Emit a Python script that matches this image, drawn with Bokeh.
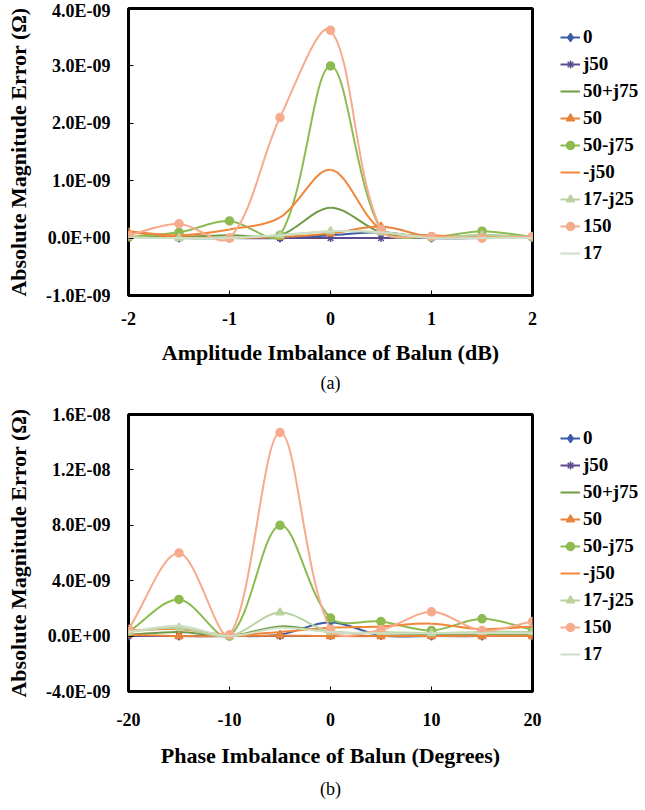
import numpy as np
from bokeh.plotting import figure
from bokeh.models import (Range1d, FixedTicker, CustomJSTickFormatter,
                          Legend, LegendItem, Title, ColumnDataSource)
from bokeh.layouts import column
from bokeh.embed import file_html
from bokeh.resources import INLINE

# ---------------- data (values in units of 1E-09 ohm) ----------------
SERIES = ["0", "j50", "50+j75", "50", "50-j75", "-j50", "17-j25", "150", "17"]
UNIT = 1e-9

# (a) amplitude imbalance
amp_x = [-2, -1.5, -1, -0.5, 0, 0.5, 1, 1.5, 2]
amp_0      = [0.02, 0.0, 0.0, 0.0, 0.05, 0.10, 0.0, 0.0, 0.0]
amp_j50    = [0.0, 0.0, 0.0, 0.0, 0.0, 0.0, 0.0, 0.0, 0.0]
amp_50j75  = [0.02, 0.02, 0.05, 0.05, 0.53, 0.10, 0.02, 0.05, 0.02]
amp_50     = [0.10, 0.02, 0.0, 0.02, 0.08, 0.20, 0.02, 0.02, 0.02]
amp_50mj75 = [0.02, 0.10, 0.30, 0.05, 3.00, 0.15, 0.02, 0.12, 0.02]
amp_mj50   = [0.12, 0.05, 0.15, 0.36, 1.19, 0.15, 0.05, 0.02, 0.02]
amp_17mj25 = [0.02, 0.0, 0.0, 0.05, 0.12, 0.10, 0.02, 0.05, 0.02]
amp_150    = [0.05, 0.25, 0.0, 2.10, 3.62, 0.15, 0.03, 0.0, 0.03]
amp_17     = [0.0, 0.0, 0.0, 0.05, 0.12, 0.10, 0.0, 0.0, 0.0]

amp_x_ticks = [-2, -1, 0, 1, 2]
amp_x_labels = ["-2", "-1", "0", "1", "2"]
amp_y_ticks = [-1e-9, 0.0, 1e-9, 2e-9, 3e-9, 4e-9]
amp_y_labels = ["-1.0E-09", "0.0E+00", "1.0E-09", "2.0E-09", "3.0E-09", "4.0E-09"]

# (b) phase imbalance
ph_x = [-20, -15, -10, -5, 0, 5, 10, 15, 20]
ph_0      = [0.0, 0.0, 0.0, 0.10, 1.00, 0.05, 0.0, 0.0, 0.0]
ph_j50    = [0.0, 0.0, 0.0, 0.0, 0.0, 0.0, 0.0, 0.0, 0.0]
ph_50j75  = [0.10, 0.30, 0.0, 0.70, 0.30, 0.20, 0.10, 0.10, 0.10]
ph_50     = [0.10, 0.0, 0.0, 0.05, 0.0, 0.0, 0.0, 0.0, 0.0]
ph_50mj75 = [0.30, 2.65, 0.0, 8.00, 1.30, 1.05, 0.40, 1.25, 0.45]
ph_mj50   = [0.40, 0.50, 0.10, 0.30, 0.60, 0.70, 0.90, 0.50, 0.70]
ph_17mj25 = [0.30, 0.60, 0.0, 1.70, 0.30, 0.30, 0.20, 0.30, 0.30]
ph_150    = [0.50, 6.00, 0.10, 14.70, 0.50, 0.45, 1.75, 0.40, 1.05]
ph_17     = [0.30, 0.75, 0.0, 0.60, 0.30, 0.20, 0.20, 0.20, 0.20]

ph_x_ticks = [-20, -10, 0, 10, 20]
ph_x_labels = ["-20", "-10", "0", "10", "20"]
ph_y_ticks = [-4e-9, 0.0, 4e-9, 8e-9, 1.2e-8, 1.6e-8]
ph_y_labels = ["-4.0E-09", "0.0E+00", "4.0E-09", "8.0E-09", "1.2E-08", "1.6E-08"]

# ---------------- styles ----------------
STYLE = {
    "0":      dict(color="#3b5ca8", marker="diamond", size=8),
    "j50":    dict(color="#5d4b8f", marker="asterisk", size=8),
    "50+j75": dict(color="#6f9a45", marker=None, size=0),
    "50":     dict(color="#e8833a", marker="triangle", size=8),
    "50-j75": dict(color="#8dbb50", marker="circle", size=8),
    "-j50":   dict(color="#f0873a", marker=None, size=0),
    "17-j25": dict(color="#b9d3a0", marker="triangle", size=8),
    "150":    dict(color="#f6ab8e", marker="circle", size=8),
    "17":     dict(color="#cfdfc4", marker=None, size=0),
}
FONT = "Liberation Serif"
FRAME_W = 404


def smooth_segments(xs, ys, kx, ky):
    """Excel-like smoothed line: chord-length scaled Catmull-Rom -> cubic Bezier."""
    x = np.asarray(xs, float)
    y = np.asarray(ys, float)
    n = len(x)
    xp = np.concatenate([[x[0]], x, [x[-1]]])
    yp = np.concatenate([[y[0]], y, [y[-1]]])
    out_x, out_y, in_x, in_y = [], [], [], []
    for i in range(n):
        p0 = (xp[i], yp[i]); p1 = (xp[i + 1], yp[i + 1]); p2 = (xp[i + 2], yp[i + 2])
        d01 = np.hypot((p1[0] - p0[0]) * kx, (p1[1] - p0[1]) * ky)
        d12 = np.hypot((p2[0] - p1[0]) * kx, (p2[1] - p1[1]) * ky)
        tx, ty = p2[0] - p0[0], p2[1] - p0[1]
        s = d01 + d12
        fo = d12 / s / 3 if s > 0 else 0.0
        fi = d01 / s / 3 if s > 0 else 0.0
        out_x.append(p1[0] + tx * fo); out_y.append(p1[1] + ty * fo)
        in_x.append(p1[0] - tx * fi); in_y.append(p1[1] - ty * fi)
    return dict(x0=x[:-1], y0=y[:-1], x1=x[1:], y1=y[1:],
                cx0=out_x[:-1], cy0=out_y[:-1], cx1=in_x[1:], cy1=in_y[1:])


def label_formatter(vals, labels):
    return CustomJSTickFormatter(args=dict(vals=vals, labels=labels), code="""
        let b = 0;
        for (let i = 0; i < vals.length; i++) {
            if (Math.abs(vals[i] - tick) < Math.abs(vals[b] - tick)) b = i;
        }
        return labels[b];
    """)


def make_fig(xs, data, x_ticks, x_labels, y_ticks, y_labels, xlabel, caption,
             top, frame_h, bottom, legend_y, tick_standoff, label_standoff, title_standoff):
    p = figure(output_backend="svg", toolbar_location=None,
               frame_width=FRAME_W, frame_height=frame_h,
               min_border_left=128, min_border_right=113,
               min_border_top=top, min_border_bottom=bottom,
               x_range=Range1d(x_ticks[0], x_ticks[-1]),
               y_range=Range1d(y_ticks[0], y_ticks[-1]),
               x_axis_label=xlabel, y_axis_label="Absolute Magnitude Error (Ω)")
    p.grid.visible = False
    p.outline_line_color = "black"
    p.outline_line_width = 3
    p.background_fill_color = "white"
    p.border_fill_color = "white"

    for ax, ticks, labels in ((p.xaxis[0], x_ticks, x_labels), (p.yaxis[0], y_ticks, y_labels)):
        ax.ticker = FixedTicker(ticks=ticks, minor_ticks=[])
        ax.formatter = label_formatter(ticks, labels)
        ax.axis_line_color = None
        ax.major_tick_in = 5
        ax.major_tick_out = 0
        ax.major_tick_line_color = "black"
        ax.minor_tick_line_color = None
        ax.major_label_text_font = FONT
        ax.major_label_text_font_style = "bold"
        ax.major_label_text_font_size = "18px"
        ax.major_label_text_color = "black"
        ax.axis_label_text_font = FONT
        ax.axis_label_text_font_style = "bold"
        ax.axis_label_text_font_size = "22px"
        ax.axis_label_text_color = "black"
    p.xaxis[0].major_label_standoff = tick_standoff
    p.xaxis[0].axis_label_standoff = label_standoff
    p.yaxis[0].major_label_standoff = 18
    p.yaxis[0].axis_label_standoff = 12

    kx = FRAME_W / (x_ticks[-1] - x_ticks[0])
    ky = frame_h / (y_ticks[-1] - y_ticks[0])

    items = []
    for name, ys in zip(SERIES, data):
        st = STYLE[name]
        yv = [v * UNIT for v in ys]
        seg = smooth_segments(xs, yv, kx, ky)
        rb = p.bezier(x0="x0", y0="y0", x1="x1", y1="y1", cx0="cx0", cy0="cy0", cx1="cx1", cy1="cy1",
                      source=ColumnDataSource(seg), line_color=st["color"], line_width=2)
        leg_rs = [rb]
        if st["marker"]:
            r = p.scatter(x=xs, y=yv, marker=st["marker"], size=st["size"],
                          fill_color=st["color"], line_color=st["color"], line_width=1.5)
            leg_rs.append(r)
        items.append(LegendItem(label=name, renderers=leg_rs))

    leg = Legend(items=items, location=(28, legend_y),
                 glyph_width=20, glyph_height=20, label_height=20, spacing=5,
                 padding=0, margin=0, label_standoff=3,
                 label_text_font=FONT, label_text_font_style="bold",
                 label_text_font_size="19px", label_text_color="black",
                 background_fill_alpha=0, border_line_alpha=0)
    p.add_layout(leg, "right")

    p.add_layout(Title(text=caption, align="center", offset=-8, standoff=title_standoff,
                       text_font=FONT, text_font_style="normal",
                       text_font_size="18px", text_color="black"), "below")
    return p


amp_data = [amp_0, amp_j50, amp_50j75, amp_50, amp_50mj75, amp_mj50, amp_17mj25, amp_150, amp_17]
ph_data = [ph_0, ph_j50, ph_50j75, ph_50, ph_50mj75, ph_mj50, ph_17mj25, ph_150, ph_17]

p1 = make_fig(amp_x, amp_data, amp_x_ticks, amp_x_labels, amp_y_ticks, amp_y_labels,
              "Amplitude Imbalance of Balun (dB)", "(a)", 8, 287, 105, 31, 16, 12, 7)
p2 = make_fig(ph_x, ph_data, ph_x_ticks, ph_x_labels, ph_y_ticks, ph_y_labels,
              "Phase Imbalance of Balun (Degrees)", "(b)", 14, 277, 119, 26, 21, 14, 13)

layout = column(p1, p2, spacing=0)
open("out.html", "w").write(file_html(layout, INLINE))
